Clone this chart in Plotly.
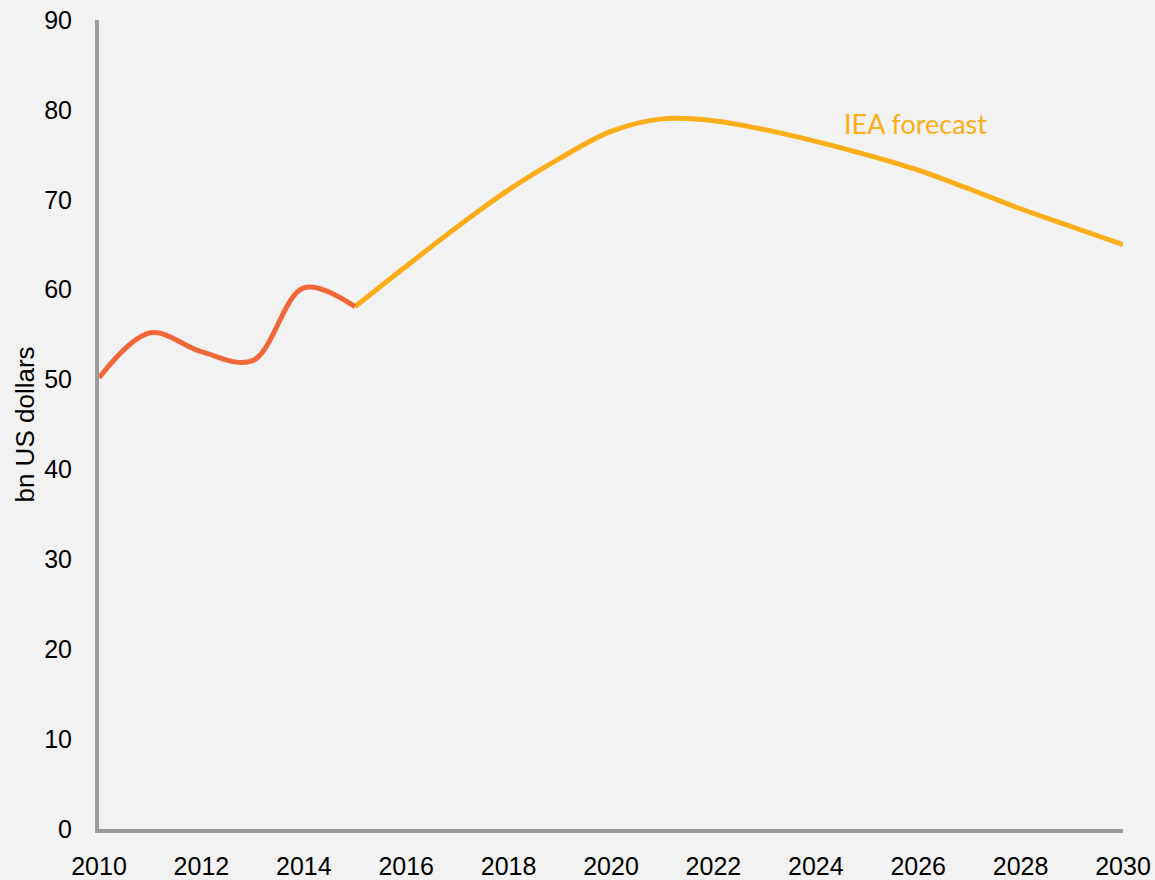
import plotly.graph_objects as go

hist_years = [2010, 2011, 2012, 2013, 2014, 2015]
hist_values = [50.2, 55.2, 53.1, 52.1, 60.2, 58.1]

fc_years = list(range(2015, 2031))
fc_values = [58.1, 62.6, 67.0, 71.1, 74.6, 77.6, 79.0, 78.8, 77.8, 76.5,
             75.0, 73.3, 71.2, 69.0, 67.0, 65.0]

x_ticks = list(range(2010, 2031, 2))
y_ticks = list(range(0, 91, 10))

HIST_COLOR = "#F0683A"
FC_COLOR = "#FCAD1A"
AXIS_COLOR = "#9C9C9C"
BG = "#F2F2F2"
FONT = "Liberation Sans, Arial, sans-serif"

fig = go.Figure()
fig.add_trace(go.Scatter(x=fc_years, y=fc_values, mode="lines",
                         line=dict(color=FC_COLOR, width=5, shape="spline", smoothing=1.0),
                         name="IEA forecast", showlegend=False, cliponaxis=False,
                         hoverinfo="skip"))
fig.add_trace(go.Scatter(x=hist_years, y=hist_values, mode="lines",
                         line=dict(color=HIST_COLOR, width=5, shape="spline", smoothing=1.0),
                         name="Historical", showlegend=False, cliponaxis=False,
                         hoverinfo="skip"))

fig.add_annotation(x=2025.95, y=78.5, text="IEA forecast", showarrow=False,
                   font=dict(family="Lato, Open Sans, sans-serif", size=27, color=FC_COLOR),
                   xanchor="center", yanchor="middle")

fig.update_layout(
    width=1155, height=880,
    paper_bgcolor=BG, plot_bgcolor=BG,
    margin=dict(l=99, r=32, t=20, b=51),
    font=dict(family=FONT, size=25, color="#000000"),
    xaxis=dict(range=[2010, 2030], tickvals=x_ticks, ticktext=[str(v) for v in x_ticks],
               showgrid=False, zeroline=False, showline=True, linecolor=AXIS_COLOR, linewidth=4,
               ticks="", ticklabelstandoff=12, tickfont=dict(size=25), automargin=False),
    yaxis=dict(range=[0, 90], tickvals=y_ticks, showgrid=False, zeroline=False,
               showline=True, linecolor=AXIS_COLOR, linewidth=4, ticks="",
               ticklabelstandoff=18, tickfont=dict(size=25), automargin=False,
               title=dict(text="bn US dollars", font=dict(size=26), standoff=3)),
)

fig.write_html("out.html", config={"displayModeBar": False},
               post_script="document.body.style.margin='0';document.body.style.overflow='hidden';")
